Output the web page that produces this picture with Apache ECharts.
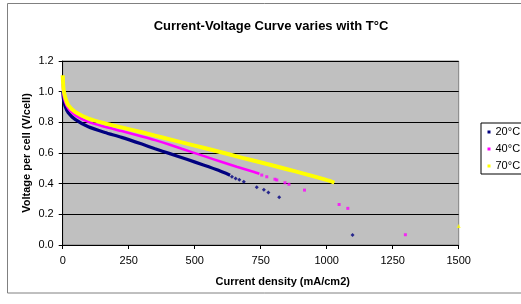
<!DOCTYPE html>
<html><head><meta charset="utf-8">
<script src="https://cdn.jsdelivr.net/npm/echarts@6/dist/echarts.min.js"></script>
<style>html,body{margin:0;padding:0;background:#fff}#c{width:521px;height:304px}</style>
</head><body><div id="c"></div>
<script>
var title = 'Current-Voltage Curve varies with T°C';
var xName = 'Current density (mA/cm2)';
var yName = 'Voltage per cell (V/cell)';
var seriesNames = ['20°C', '40°C', '70°C'];
var xTicks = [0, 250, 500, 750, 1000, 1250, 1500];
var yTicks = [0.0, 0.2, 0.4, 0.6, 0.8, 1.0, 1.2];

// dense (continuous-looking) parts of each curve
var t20Dense = [[0,1.005],[3,0.95],[9,0.905],[21,0.862],[47,0.819],[97,0.771],[160,0.734],[223,0.702],[300,0.658],[350,0.628],[406,0.596],[470,0.559],[533,0.522],[590,0.487],[634,0.455]];
var t40Dense = [[0,1.053],[3,0.98],[9,0.934],[21,0.89],[47,0.847],[97,0.803],[160,0.771],[223,0.743],[300,0.708],[350,0.684],[406,0.654],[451,0.628],[533,0.581],[600,0.543],[659,0.51],[722,0.478],[745,0.465]];
var t70Dense = [[0,1.107],[3,1.02],[9,0.966],[21,0.912],[47,0.868],[97,0.825],[160,0.793],[223,0.767],[300,0.735],[350,0.713],[406,0.689],[451,0.669],[533,0.634],[600,0.605],[659,0.578],[710,0.556],[785,0.523],[850,0.494],[899,0.472],[962,0.443],[1012,0.418],[1029,0.406]];
// sparse individual points
var t20Sparse = [[641,0.445],[655,0.434],[669,0.426],[686,0.412],[735,0.377],[762,0.36],[779,0.342],[820,0.312],[1098,0.065]];
var t40Sparse = [[754,0.456],[773,0.445],[804,0.429],[811,0.424],[842,0.406],[857,0.396],[916,0.358],[1047,0.264],[1080,0.239],[1298,0.067]];
var t70Sparse = [[1500,0.124]];

var colors = ['#000080', '#FF00FF', '#FFFF00'];
var FONT = 'Liberation Sans, Arial, sans-serif';

var chart = echarts.init(document.getElementById('c'), null, {renderer: 'canvas'});
var dense = [t20Dense, t40Dense, t70Dense];
var sparse = [t20Sparse, t40Sparse, t70Sparse];
var widths = [3.2, 2.5, 4];
var symbols = ['diamond', 'rect', 'triangle'];
var symSizes = [4, 3, 4];
var series = [];
for (var i = 0; i < 3; i++) {
  series.push({
    name: seriesNames[i], type: 'line', data: dense[i], showSymbol: false, symbol: 'none',
    lineStyle: {color: colors[i], width: widths[i]}, itemStyle: {color: colors[i]},
    z: 2 + i, silent: true, animation: false, smooth: 0.2
  });
  series.push({
    name: seriesNames[i], type: 'scatter', data: sparse[i], symbol: symbols[i], symbolSize: symSizes[i],
    itemStyle: {color: colors[i]}, z: 2 + i, silent: true, animation: false
  });
}

chart.setOption({
  animation: false,
  backgroundColor: '#ffffff',
  title: {
    text: title, left: 266, top: 15, textAlign: 'center',
    textStyle: {fontFamily: FONT, fontSize: 13, fontWeight: 'bold', color: '#000'}
  },
  graphic: [{
    type: 'rect', shape: {x: 7.5, y: 3.5, width: 530, height: 289.5},
    style: {fill: null, stroke: '#808080', lineWidth: 1}, z: -1, silent: true
  }],
  legend: {
    orient: 'vertical', left: 481, top: 123,
    padding: [3.5, 40, 2.5, 6.5], itemGap: 6,
    itemWidth: 3, itemHeight: 3,
    borderColor: '#000', borderWidth: 1, backgroundColor: '#fff',
    textStyle: {fontFamily: FONT, fontSize: 11, color: '#000', padding: [0,0,0,0]},
    data: seriesNames.map(function (n) { return {name: n, icon: 'rect'}; }),
    selectedMode: false
  },
  grid: {
    left: 62.7, right: 62.3, top: 61, bottom: 59,
    show: true, backgroundColor: '#C0C0C0', borderColor: '#808080', borderWidth: 1
  },
  xAxis: {
    type: 'value', min: xTicks[0], max: xTicks[xTicks.length - 1], interval: 250,
    name: xName, nameLocation: 'middle', nameGap: 31, nameMoveOverlap: false,
    nameTextStyle: {fontFamily: FONT, fontSize: 11, fontWeight: 'bold', color: '#000', padding: [0, 0, 0, 44]},
    axisLine: {show: true, lineStyle: {color: '#000', width: 1}},
    axisTick: {show: true, length: 4, lineStyle: {color: '#000'}},
    axisLabel: {fontFamily: FONT, fontSize: 11, color: '#000', margin: 10,
      formatter: function (v) { return String(v); }},
    splitLine: {show: false}
  },
  yAxis: {
    type: 'value', min: yTicks[0], max: yTicks[yTicks.length - 1], interval: 0.2,
    name: yName, nameLocation: 'middle', nameGap: 30, nameMoveOverlap: false,
    nameTextStyle: {fontFamily: FONT, fontSize: 11, fontWeight: 'bold', color: '#000'},
    axisLine: {show: true, lineStyle: {color: '#000', width: 1}},
    axisTick: {show: true, length: 4, lineStyle: {color: '#000'}},
    axisLabel: {fontFamily: FONT, fontSize: 11, color: '#000', margin: 9,
      formatter: function (v) { return v.toFixed(1); }},
    splitLine: {show: true, lineStyle: {color: '#000', width: 1}}
  },
  series: series
});
</script></body></html>
